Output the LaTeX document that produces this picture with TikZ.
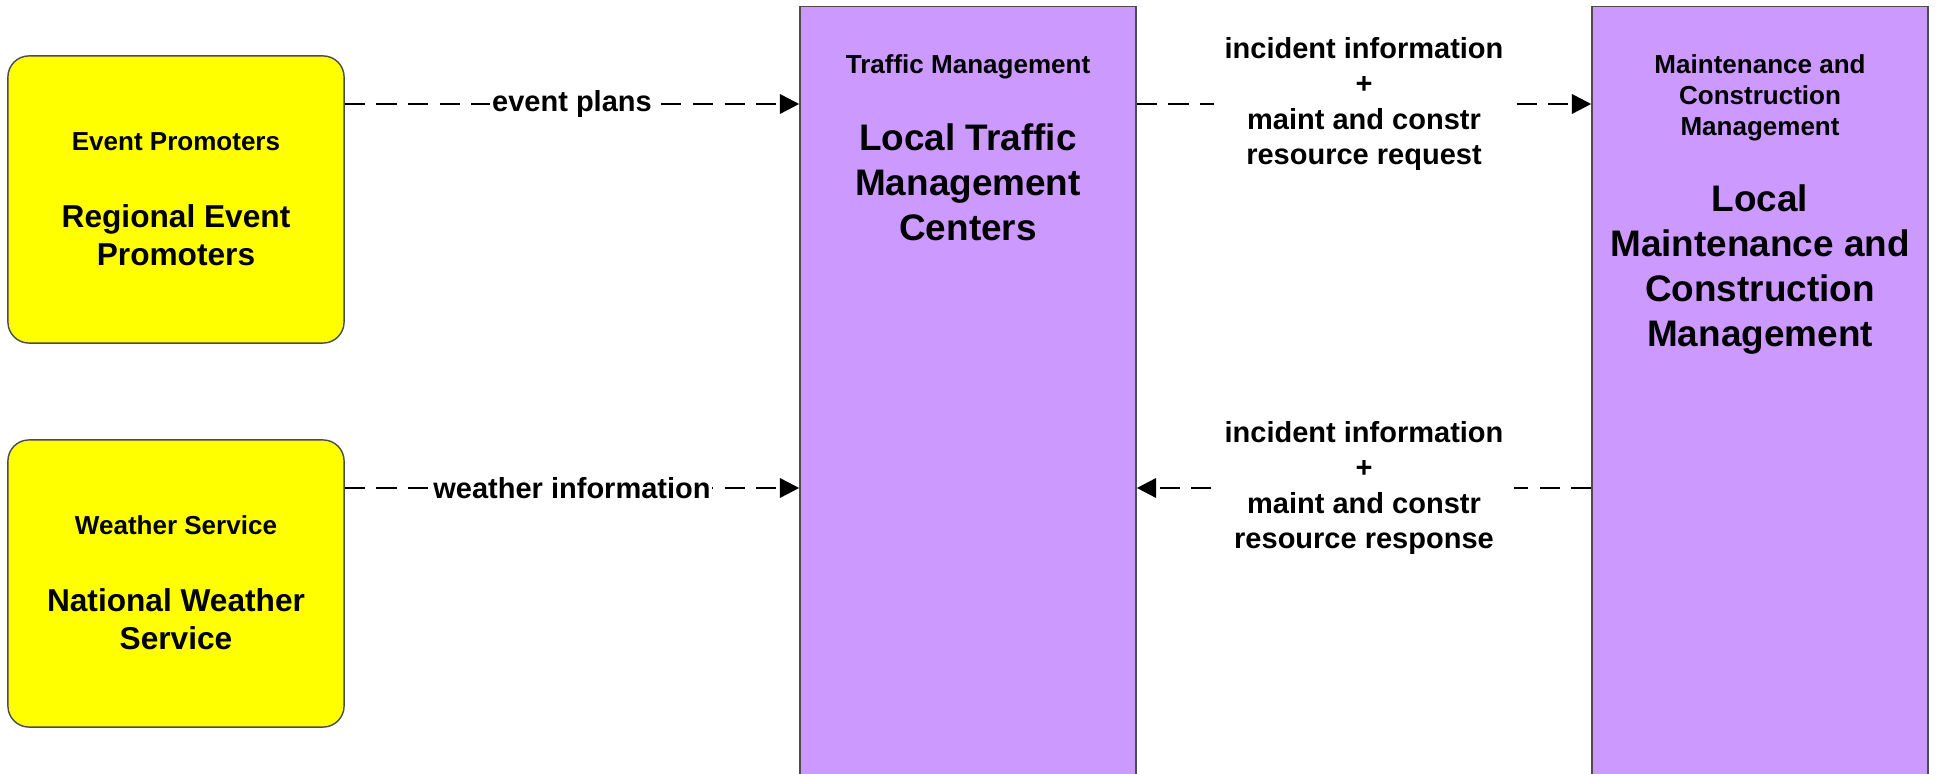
\documentclass[tikz,border=0pt]{standalone}
\usepackage{fontspec}
\setmainfont{Liberation Sans}
\usetikzlibrary{arrows.meta}
\definecolor{lilac}{HTML}{CC99FF}
\definecolor{lemon}{HTML}{FFFF00}

\begin{document}
\begin{tikzpicture}[x = .01cm, y = -.01cm,
        ext/.style = {draw=black!70, line width=.4pt, fill=lemon, rounded corners=6pt,
                      minimum width=3.36cm, minimum height=2.87cm},
        sys/.style = {draw=black!70, line width=.4pt, fill=lilac,
                      minimum width=3.36cm, minimum height=8cm},
        ttl/.style = {font=\fontsize{7.4}{8.9}\selectfont\bfseries, align=center, inner sep=0pt},
        nm/.style = {font=\fontsize{10.5}{12.8}\selectfont\bfseries, align=center, inner sep=0pt},
        nmext/.style = {font=\fontsize{9}{10.8}\selectfont\bfseries, align=center, inner sep=0pt},
        flow/.style = {line width=.75pt, dash pattern=on 5.7pt off 3.3pt,
                       -{Triangle[length=5.5pt, width=5.5pt]}},
        flowlbl/.style = {fill=white, font=\fontsize{8.25}{10}\selectfont\bfseries,
                          align=center, inner xsep=.5pt, inner ysep=1pt}]
        \useasboundingbox (0,0) rectangle (1937,774);
        \clip (0,0) rectangle (1937,774);
        \node[ext] (ep) at (176,199.5) {};
        \node[ext] (ws) at (176,583.5) {};
        \node[sys] (tm) at (968,407) {};
        \node[sys] (mc) at (1760,407) {};
        \node[ttl] (epttl) at (176,142) {Event Promoters};
        \node[nmext] (epnm) at (176,235) {Regional Event\\Promoters};
        \node[ttl] (wsttl) at (176,525) {Weather Service};
        \node[nmext] (wsnm) at (176,619) {National Weather\\Service};
        \node[ttl] (tmttl) at (968,67) {Traffic Management};
        \node[nm] (tmnm) at (968,182) {Local Traffic\\Management\\Centers};
        \node[ttl] (mcttl) at (1760,98) {Maintenance and\\Construction\\Management};
        \node[nm] (mcnm) at (1760,270) {Local\\Maintenance and\\Construction\\Management};
        \coordinate (rowa) at (0,104);
        \coordinate (rowb) at (0,488);
        \draw[flow] (ep.east |- rowa) -- node[flowlbl] {event plans} (tm.west |- rowa);
        \draw[flow] (ws.east |- rowb) -- node[flowlbl] {weather information} (tm.west |- rowb);
        \draw[flow] (tm.east |- rowa) -- node[flowlbl, inner xsep=3pt]
                {incident information\\+\\maint and constr\\resource request} (mc.west |- rowa);
        \draw[flow] (mc.west |- rowb) -- node[flowlbl, inner xsep=3pt]
                {incident information\\+\\maint and constr\\resource response} (tm.east |- rowb);
\end{tikzpicture}
\end{document}
